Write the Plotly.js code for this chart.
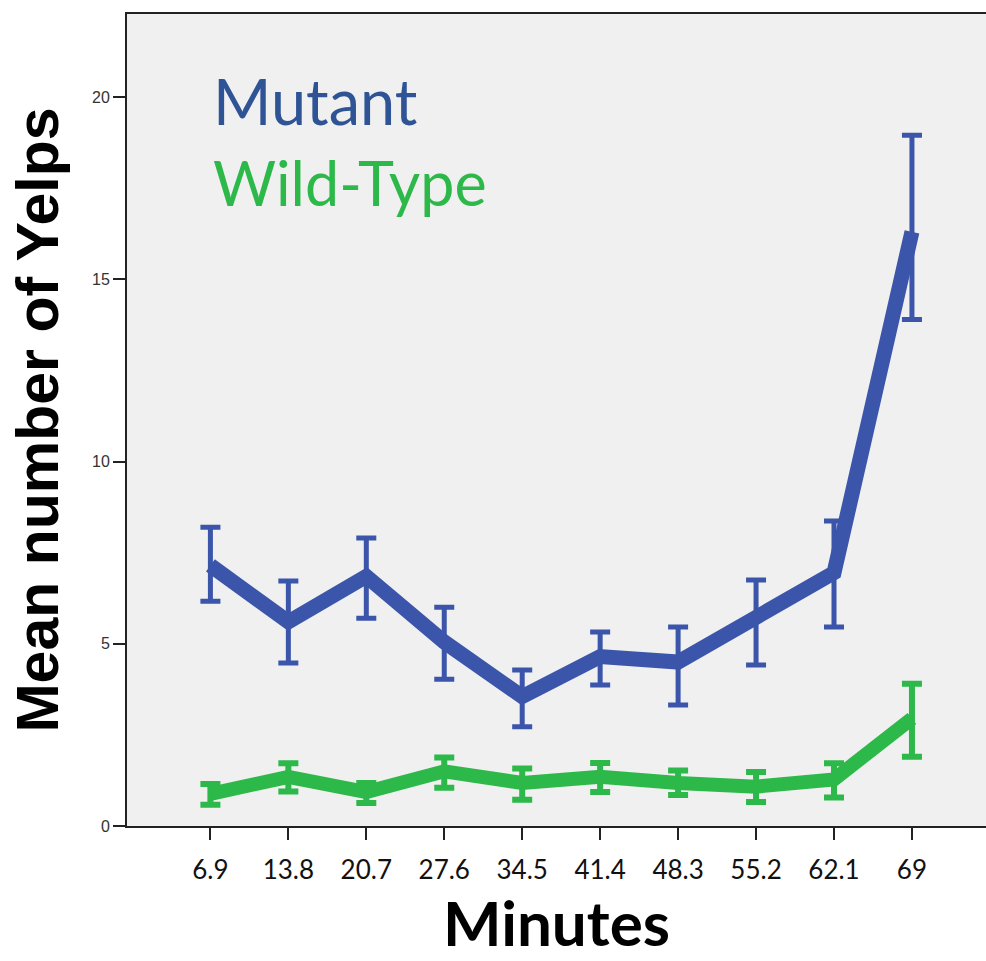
<!DOCTYPE html>
<html>
<head>
<meta charset="utf-8">
<script src="https://cdn.plot.ly/plotly-3.0.1.min.js"></script>
<style>
html,body{margin:0;padding:0;background:#fff;}
#chart{width:986px;height:961px;}
</style>
</head>
<body>
<div id="chart"></div>
<script>
const minutes = ["6.9","13.8","20.7","27.6","34.5","41.4","48.3","55.2","62.1","69"];
const mutantMean  = [7.15, 5.6, 6.85, 5.05, 3.55, 4.65, 4.5, 5.7, 6.95, 16.3];
const mutantUpper = [8.2, 6.72, 7.9, 6.0, 4.28, 5.32, 5.46, 6.75, 8.37, 18.95];
const mutantLower = [6.17, 4.47, 5.7, 4.03, 2.72, 3.87, 3.32, 4.42, 5.46, 13.9];
const wildMean  = [0.88, 1.35, 0.93, 1.5, 1.18, 1.35, 1.18, 1.08, 1.28, 2.95];
const wildUpper = [1.15, 1.72, 1.18, 1.88, 1.58, 1.73, 1.52, 1.48, 1.72, 3.9];
const wildLower = [0.58, 0.95, 0.63, 1.05, 0.72, 0.93, 0.85, 0.66, 0.78, 1.9];

const mutantColor = "#3B55AA";
const wildColor = "#2DB84A";

function errs(mean, up, lo){
  return {
    type: "data", symmetric: false,
    array: mean.map((m,i)=>up[i]-m),
    arrayminus: mean.map((m,i)=>m-lo[i])
  };
}

const traces = [
  {
    x: minutes, y: wildMean, type: "scatter", mode: "lines",
    line: {color: wildColor, width: 14},
    error_y: Object.assign(errs(wildMean, wildUpper, wildLower), {color: wildColor, thickness: 6, width: 10}),
    hoverinfo: "skip"
  },
  {
    x: minutes, y: mutantMean, type: "scatter", mode: "lines",
    line: {color: mutantColor, width: 15},
    error_y: Object.assign(errs(mutantMean, mutantUpper, mutantLower), {color: mutantColor, thickness: 5, width: 10}),
    hoverinfo: "skip"
  }
];

const layout = {
  width: 986, height: 961,
  margin: {l: 127, r: 0, t: 14, b: 135},
  paper_bgcolor: "#ffffff",
  plot_bgcolor: "#F0F0F0",
  showlegend: false,
  xaxis: {
    type: "category",
    range: [-1.07, 9.95],
    showgrid: false, zeroline: false,
    showline: true, linecolor: "#222", linewidth: 2, mirror: true,
    ticks: "outside", ticklen: 12, tickwidth: 2, tickcolor: "#222",
    ticklabelstandoff: 8,
    tickfont: {family: "Lato, Carlito, sans-serif", size: 26, color: "#111"},
    title: {text: "<b>Minutes</b>", font: {family: "Lato, sans-serif", size: 62, color: "#000"}, standoff: 10}
  },
  yaxis: {
    range: [0, 22.28],
    tickvals: [0, 5, 10, 15, 20],
    showgrid: false, zeroline: false,
    showline: true, linecolor: "#222", linewidth: 2, mirror: true,
    ticks: "outside", ticklen: 12, tickwidth: 2, tickcolor: "#222",
    tickfont: {family: "Liberation Sans, Arial, sans-serif", size: 16, color: "#333"},
    title: {text: "<b>Mean number of Yelps</b>", font: {family: "Liberation Sans, Arial, sans-serif", size: 59, color: "#000"}, standoff: 14}
  },
  annotations: [
    {text: "Mutant", xref: "paper", yref: "paper", x: 0.098, y: 0.893, xanchor: "left", yanchor: "middle",
     showarrow: false, font: {family: "Lato, sans-serif", size: 63, color: "#2E5496"}},
    {text: "Wild-Type", xref: "paper", yref: "paper", x: 0.098, y: 0.792, xanchor: "left", yanchor: "middle",
     showarrow: false, font: {family: "Lato, sans-serif", size: 61, color: wildColor}}
  ]
};

Plotly.newPlot("chart", traces, layout, {displayModeBar: false, staticPlot: true});
</script>
</body>
</html>
